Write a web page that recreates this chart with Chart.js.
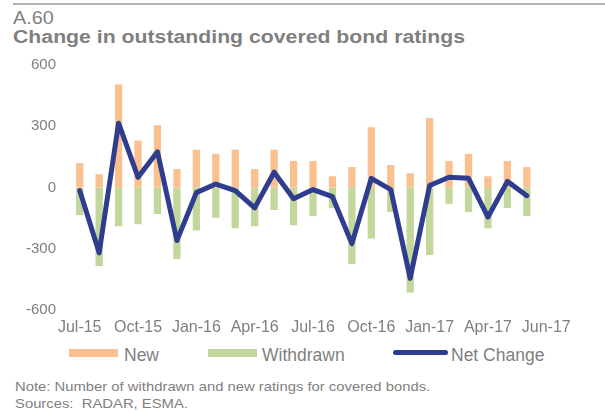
<!DOCTYPE html>
<html>
<head>
<meta charset="utf-8">
<script src="https://cdn.jsdelivr.net/npm/chart.js@4/dist/chart.umd.min.js"></script>
<style>
  html, body { margin: 0; padding: 0; background: #fff; }
  body { width: 605px; height: 411px; position: relative; overflow: hidden; font-family: "Liberation Sans", Arial, sans-serif; color: #7f7f7f; }
  #rule { position: absolute; left: 13px; top: 3px; width: 592px; height: 2px; background: #b3b3b3; }
  .t { position: absolute; white-space: nowrap; transform-origin: 0 0; }
  #num { left: 13px; top: 8px; font-size: 18px; line-height: 20px; transform: scaleX(1.1); }
  #title { left: 13px; top: 26px; font-size: 18px; line-height: 22px; font-weight: bold; transform: scaleX(1.18); }
  #wrap { position: absolute; left: 0; top: 42px; width: 605px; height: 300px; }
  #notes { left: 15px; top: 378px; font-size: 13px; line-height: 17px; transform: scaleX(1.14); }
  .lg { position: absolute; }
  .lt { position: absolute; top: 345px; font-size: 17.5px; line-height: 20px; white-space: nowrap; }
</style>
</head>
<body>
<div id="rule"></div>
<div id="num" class="t">A.60</div>
<div id="title" class="t">Change in outstanding covered bond ratings</div>
<div id="wrap"><canvas id="c" width="605" height="300"></canvas></div>
<div id="legend"></div>
<div id="notes" class="t">Note: Number of withdrawn and new ratings for covered bonds.<br>Sources:&nbsp; RADAR, ESMA.</div>
<script>
// Months Jul-15 .. Jun-17
const months = ['Jul-15','Aug-15','Sep-15','Oct-15','Nov-15','Dec-15','Jan-16','Feb-16','Mar-16','Apr-16','May-16','Jun-16',
                'Jul-16','Aug-16','Sep-16','Oct-16','Nov-16','Dec-16','Jan-17','Feb-17','Mar-17','Apr-17','May-17','Jun-17'];
const newRatings = [120, 65, 505, 230, 305, 90, 185, 165, 185, 90, 185, 130,
                    130, 55, 100, 295, 110, 70, 340, 130, 165, 55, 130, 100];
const withdrawn = [-135, -385, -190, -180, -130, -350, -210, -148, -200, -190, -110, -185,
                   -140, -100, -375, -250, -120, -515, -330, -80, -120, -200, -100, -140];
const netChange = [-15, -320, 315, 50, 175, -260, -25, 17, -15, -100, 75, -55,
                   -10, -45, -275, 45, -10, -445, 10, 50, 45, -145, 30, -40];
const tickLabels = ['Jul-15','Oct-15','Jan-16','Apr-16','Jul-16','Oct-16','Jan-17','Apr-17','Jun-17'];
const yTicks = [-600, -300, 0, 300, 600];
const seriesNames = ['New', 'Withdrawn', 'Net Change'];

const GREY = '#7f7f7f';
const ORANGE = '#fac090';
const GREEN = '#c3d69b';
const NAVY = '#2e3d8d';
const FONT = '"Liberation Sans", Arial, sans-serif';

// one trailing empty slot so the last tick label sits as in the original
const labels = months.concat(['']);

new Chart(document.getElementById('c'), {
  data: {
    labels: labels,
    datasets: [
      { type: 'line', label: seriesNames[2], data: netChange, borderColor: NAVY, backgroundColor: NAVY,
        borderWidth: 5, pointRadius: 0, tension: 0, borderJoinStyle: 'round', borderCapStyle: 'round', order: 0, stack: 'net' },
      { type: 'bar', label: seriesNames[0], data: newRatings, backgroundColor: ORANGE, order: 1, stack: 'bars',
        barPercentage: 0.375, categoryPercentage: 1 },
      { type: 'bar', label: seriesNames[1], data: withdrawn, backgroundColor: GREEN, order: 2, stack: 'bars',
        barPercentage: 0.375, categoryPercentage: 1 }
    ]
  },
  options: {
    responsive: false,
    animation: false,
    devicePixelRatio: 1,
    layout: { padding: { top: 0, left: 0, right: 49, bottom: 0 } },
    plugins: { tooltip: { enabled: false }, legend: { display: false } },
    scales: {
      x: {
        stacked: true,
        offset: true,
        grid: { display: false, drawTicks: false },
        border: { display: false },
        ticks: {
          autoSkip: false,
          maxRotation: 0,
          color: GREY,
          padding: 8,
          font: { family: FONT, size: 16 },
          callback: (v, i) => (i % 3 === 0 ? tickLabels[i / 3] : '')
        },
        afterFit: (s) => { s.height = 32; }
      },
      y: {
        stacked: true,
        min: -600, max: 600,
        afterBuildTicks: (s) => { s.ticks = yTicks.map(v => ({ value: v })); },
        grid: { display: false, drawTicks: false },
        border: { display: false },
        ticks: {
          color: GREY,
          padding: 14,
          font: { family: FONT, size: 15 },
          callback: (v) => String(v)
        },
        afterFit: (s) => { s.width = 70; }
      }
    }
  }
});

// HTML legend
const lg = document.getElementById('legend');
const items = [
  { name: seriesNames[0], kind: 'box', color: ORANGE, mx: 69, tx: 124 },
  { name: seriesNames[1], kind: 'box', color: GREEN, mx: 208, tx: 262 },
  { name: seriesNames[2], kind: 'line', color: NAVY, mx: 393, tx: 451 }
];
items.forEach(it => {
  const m = document.createElement('div');
  m.className = 'lg';
  if (it.kind === 'box') {
    m.style.cssText = `left:${it.mx}px;top:349px;width:49px;height:8px;background:${it.color};`;
  } else {
    m.style.cssText = `left:${it.mx}px;top:350px;width:55px;height:5px;border-radius:2.5px;background:${it.color};`;
  }
  lg.appendChild(m);
  const t = document.createElement('div');
  t.className = 'lt';
  t.style.left = it.tx + 'px';
  t.textContent = it.name;
  lg.appendChild(t);
});
</script>
</body>
</html>
